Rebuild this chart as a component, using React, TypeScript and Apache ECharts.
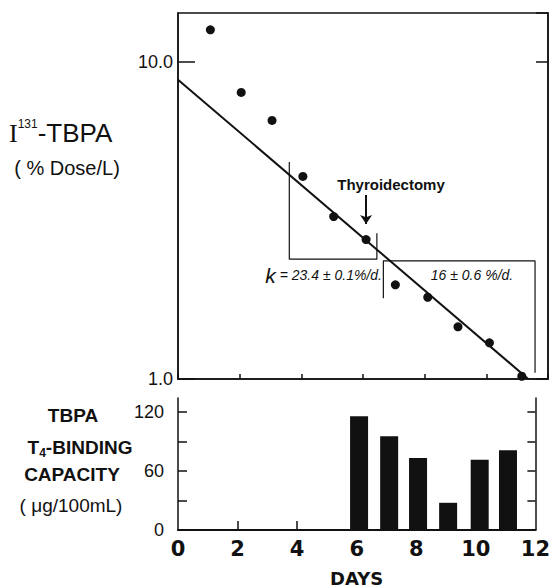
import React, { useEffect, useRef } from 'react';
import * as echarts from 'echarts';

// ---- data ----
const pointDays = [1.05, 2.05, 3.05, 4.05, 5.05, 6.1, 7.05, 8.1, 9.08, 10.1, 11.15];
const doseValues = [12.6, 8.0, 6.53, 4.35, 3.25, 2.75, 1.98, 1.81, 1.46, 1.3, 1.02];
const fitDays = [0, 11.36];
const fitValues = [8.78, 1.0];
const leftBracketDays = [3.61, 3.61, 6.45, 6.45];
const leftBracketValues = [4.83, 2.386, 2.386, 2.88];
const rightBracketDays = [6.66, 6.66, 11.58, 11.58];
const rightBracketValues = [1.797, 2.356, 2.356, 1.047];
const arrowDays = [6.1, 6.1];
const arrowValues = [3.8, 3.08];
const barDays = [6.08, 7.09, 8.06, 9.07, 10.13, 11.08];
const capacityValues = [115.9, 95.4, 73.4, 27.7, 71.5, 81.3];
const doseLabelValues = [1, 10];
const doseLabelTexts = ['1.0', '10.0'];
const capacityTickValues = [30, 60, 90, 120];
const capacityLabelValues = [0, 60, 120];
const dayTickValues = [2, 4, 6, 8, 10];

const zip = (a: number[], b: number[]) => a.map((v, i) => [v, b[i]]);
const INK = '#111';

export default function App() {
  const ref = useRef<HTMLDivElement>(null);
  useEffect(() => {
    if (!ref.current) return;
    const chart = echarts.init(ref.current, undefined, { renderer: 'svg' });
    const doseFmt = (v: number) => {
      for (let i = 0; i < doseLabelValues.length; i++) {
        if (Math.abs(v - doseLabelValues[i]) < 1e-6) return doseLabelTexts[i];
      }
      return '';
    };
    const logAxisBase = {
      gridIndex: 0,
      type: 'log',
      logBase: 10,
      min: 1,
      max: 14.24,
      axisLine: { show: true, lineStyle: { color: INK, width: 1.5 } },
      splitLine: { show: false },
      minorTick: { show: false },
    };
    const capAxisBase = {
      gridIndex: 1,
      type: 'value',
      min: 0,
      max: 134.4,
      axisLine: { show: true, lineStyle: { color: INK, width: 1.5 } },
      splitLine: { show: false },
    };
    const option: any = {
      animation: false,
      backgroundColor: '#fff',
      grid: [
        { left: 178, top: 13, width: 370, height: 366, show: true, borderColor: INK, borderWidth: 1.5, backgroundColor: 'transparent' },
        { left: 178, top: 398, width: 370, height: 143 },
      ],
      xAxis: [
        {
          gridIndex: 0, type: 'value', min: 0, max: 12, interval: 2,
          axisLine: { show: true, lineStyle: { color: INK, width: 1.5 } },
          axisTick: { show: true, inside: true, length: 5, lineStyle: { color: INK, width: 1.5 } },
          axisLabel: { show: false },
          splitLine: { show: false },
        },
        {
          gridIndex: 1, type: 'value', min: 0, max: 12, interval: 2,
          axisLine: { show: true, lineStyle: { color: INK, width: 2 } },
          axisTick: { show: true, inside: true, length: 9, customValues: dayTickValues, lineStyle: { color: INK, width: 1.5 } },
          axisLabel: { show: true, margin: 8, color: INK, fontSize: 21, fontWeight: 'bold', fontFamily: 'DejaVu Sans' },
          splitLine: { show: false },
          name: 'DAYS', nameLocation: 'middle', nameGap: 39,
          nameTextStyle: { color: INK, fontSize: 18, fontWeight: 'bold', fontFamily: 'DejaVu Sans' },
        },
      ],
      yAxis: [
        {
          ...logAxisBase,
          position: 'left',
          axisTick: { show: true, inside: true, length: 17, lineStyle: { color: INK, width: 1.5 } },
          axisLabel: { show: true, margin: 5, color: INK, fontSize: 18, fontFamily: 'Liberation Sans', formatter: doseFmt, showMaxLabel: false },
        },
        {
          ...logAxisBase,
          position: 'right',
          axisTick: { show: true, inside: true, length: 12, lineStyle: { color: INK, width: 1.5 } },
          axisLabel: { show: false },
        },
        {
          ...capAxisBase,
          position: 'left',
          axisTick: { show: true, inside: true, length: 9, customValues: capacityTickValues, lineStyle: { color: INK, width: 1.5 } },
          axisLabel: { show: true, margin: 14, color: INK, fontSize: 18, fontFamily: 'Liberation Sans', customValues: capacityLabelValues },
        },
        {
          ...capAxisBase,
          position: 'right',
          axisTick: { show: true, inside: true, length: 8, customValues: capacityTickValues, lineStyle: { color: INK, width: 1.5 } },
          axisLabel: { show: false },
        },
      ],
      series: [
        {
          type: 'line', xAxisIndex: 0, yAxisIndex: 0, data: zip(fitDays, fitValues),
          symbol: 'none', lineStyle: { color: INK, width: 2 }, silent: true,
        },
        {
          type: 'line', xAxisIndex: 0, yAxisIndex: 0, data: zip(leftBracketDays, leftBracketValues),
          symbol: 'none', lineStyle: { color: INK, width: 1.2 }, silent: true,
        },
        {
          type: 'line', xAxisIndex: 0, yAxisIndex: 0, data: zip(rightBracketDays, rightBracketValues),
          symbol: 'none', lineStyle: { color: INK, width: 1.2 }, silent: true,
        },
        {
          type: 'lines', coordinateSystem: 'cartesian2d', xAxisIndex: 0, yAxisIndex: 0,
          data: [{ coords: zip(arrowDays, arrowValues) }],
          symbol: ['none', 'arrow'], symbolSize: 9,
          lineStyle: { color: INK, width: 2, opacity: 1 },
        },
        {
          type: 'scatter', xAxisIndex: 0, yAxisIndex: 0, data: zip(pointDays, doseValues),
          symbol: 'circle', symbolSize: 9, itemStyle: { color: INK, opacity: 1 },
        },
        {
          type: 'bar', xAxisIndex: 1, yAxisIndex: 2, data: zip(barDays, capacityValues),
          barWidth: 18, itemStyle: { color: INK, opacity: 1 },
        },
      ],
      graphic: [
        {
          type: 'text', x: 9, y: 133,
          style: {
            text: '{i|I}{s|131}{t|-TBPA}',
            align: 'left', verticalAlign: 'middle', fill: INK,
            rich: {
              i: { fontFamily: 'Liberation Serif', fontSize: 26, lineHeight: 30, fill: INK },
              s: { fontFamily: 'Liberation Sans', fontSize: 12, lineHeight: 22, verticalAlign: 'top', fill: INK },
              t: { fontFamily: 'Liberation Sans', fontSize: 26, lineHeight: 30, fill: INK },
            },
          },
        },
        {
          type: 'text', x: 67, y: 168,
          style: { text: '( % Dose/L)', align: 'center', verticalAlign: 'middle', fill: INK, fontFamily: 'Liberation Sans', fontSize: 20 },
        },
        {
          type: 'text', x: 73, y: 415,
          style: { text: 'TBPA', align: 'center', verticalAlign: 'middle', fill: INK, fontFamily: 'Liberation Sans', fontWeight: 'bold', fontSize: 19 },
        },
        {
          type: 'text', x: 80, y: 447,
          style: {
            text: '{t|T}{s|4}{t|-BINDING}',
            align: 'center', verticalAlign: 'middle', fill: INK,
            rich: {
              t: { fontFamily: 'Liberation Sans', fontWeight: 'bold', fontSize: 19, lineHeight: 24, fill: INK },
              s: { fontFamily: 'Liberation Sans', fontWeight: 'bold', fontSize: 12, lineHeight: 16, verticalAlign: 'bottom', fill: INK },
            },
          },
        },
        {
          type: 'text', x: 72, y: 474,
          style: { text: 'CAPACITY', align: 'center', verticalAlign: 'middle', fill: INK, fontFamily: 'Liberation Sans', fontWeight: 'bold', fontSize: 19 },
        },
        {
          type: 'text', x: 71, y: 505,
          style: { text: '( μg/100mL)', align: 'center', verticalAlign: 'middle', fill: INK, fontFamily: 'Liberation Sans', fontSize: 19 },
        },
        {
          type: 'text', x: 391, y: 184,
          style: { text: 'Thyroidectomy', align: 'center', verticalAlign: 'middle', fill: INK, fontFamily: 'Liberation Sans', fontWeight: 'bold', fontSize: 15 },
        },
        {
          type: 'text', x: 382, y: 275,
          style: {
            text: '{k|k}{r| = 23.4 ± 0.1%/d.}',
            align: 'right', verticalAlign: 'middle', fill: INK,
            rich: {
              k: { fontFamily: 'Liberation Sans', fontStyle: 'italic', fontSize: 21, lineHeight: 24, fill: INK },
              r: { fontFamily: 'Liberation Sans', fontStyle: 'italic', fontSize: 14, lineHeight: 24, fill: INK },
            },
          },
        },
        {
          type: 'text', x: 472, y: 275,
          style: { text: '16 ± 0.6 %/d.', align: 'center', verticalAlign: 'middle', fill: INK, fontFamily: 'Liberation Sans', fontStyle: 'italic', fontSize: 14 },
        },
      ],
    };
    chart.setOption(option);
    return () => chart.dispose();
  }, []);
  return <div ref={ref} style={{ width: 553, height: 588, position: 'absolute', left: 0, top: 0 }} />;
}
